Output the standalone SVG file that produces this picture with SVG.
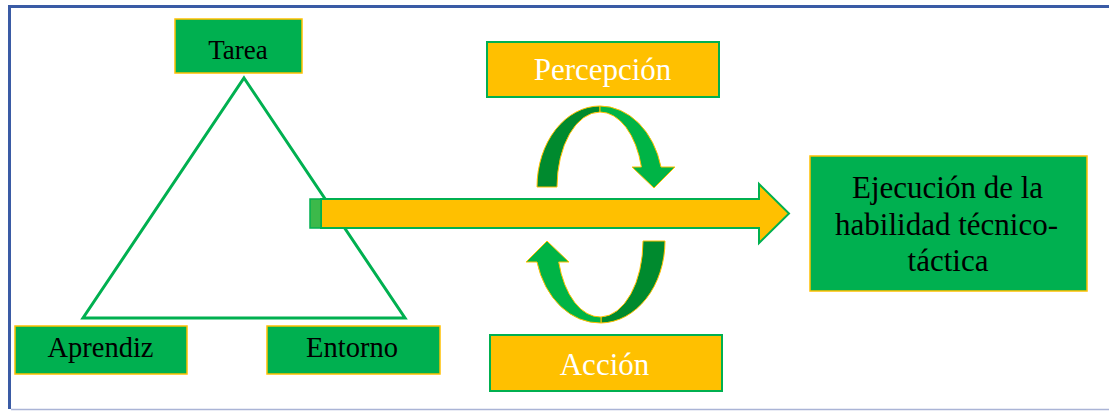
<svg xmlns="http://www.w3.org/2000/svg" width="1109" height="412" viewBox="0 0 1109 412">
<style>
.gbox{fill:#00b050;stroke:#ffc000;stroke-width:1.5}
.ybox{fill:#ffc000;stroke:#00b050;stroke-width:2}
.dark{fill:#000;text-anchor:middle}
.light{fill:#fff;text-anchor:middle}
.dk{fill:#008a2e;stroke:#ffc000;stroke-width:1}
.br{fill:#00b446;stroke:#ffc000;stroke-width:1}
</style>
<rect width="1109" height="412" fill="#fff"/>
<g id="frame">
<path d="M1109 6.5 H9.5 V409" fill="none" stroke="#3a5ba5" stroke-width="3"/>
<path d="M11 409.5 H1109" fill="none" stroke="#aab4d6" stroke-width="1.5"/>
</g>
<g id="triangle">
<path d="M244 78 L405 318 L83 318 Z" fill="none" stroke="#00b050" stroke-width="3" stroke-linejoin="miter"/>
</g>
<g id="connectors">
<path d="M321 199 H759 V184 L789 213.5 L759 243 V228 H321 Z" fill="#ffc000" stroke="#00b050" stroke-width="2"/>
<rect x="310" y="199" width="11" height="29" fill="#3cb94a" stroke="#00b050" stroke-width="1.5"/>
<g id="cycle-top">
<path class="dk" d="M537 187 A63 81 0 0 1 600 106 L600 112 A43 75 0 0 0 557 187 Z"/>
<path class="br" d="M600 106 A63 81 0 0 1 661 167 L675 167 L654 188 L632 167 L641.4 167 A43 75 0 0 0 600 112 Z"/>
</g>
<g id="cycle-bottom">
<path class="dk" d="M665 241 A65 82 0 0 1 601 323 L601 317 A43 76 0 0 0 643 241 Z"/>
<path class="br" d="M601 323 A65 82 0 0 1 537 262 L526 262 L547 241 L569 262 L558.7 262 A43 76 0 0 0 601 317 Z"/>
</g>
</g>
<g font-family="Liberation Serif, Times New Roman, serif">
<g id="tarea">
<rect class="gbox" x="175" y="19" width="127" height="54"/>
<text class="dark" x="238" y="59" font-size="27">Tarea</text>
</g>
<g id="aprendiz">
<rect class="gbox" x="15" y="326" width="172" height="48"/>
<text class="dark" x="100.5" y="357" font-size="28.5">Aprendiz</text>
</g>
<g id="entorno">
<rect class="gbox" x="267" y="326" width="173" height="48"/>
<text class="dark" x="352" y="357" font-size="28.5">Entorno</text>
</g>
<g id="percepcion">
<rect class="ybox" x="487" y="42" width="232" height="55"/>
<text class="light" x="602.5" y="80" font-size="31">Percepción</text>
</g>
<g id="accion">
<rect class="ybox" x="490" y="335" width="232" height="56"/>
<text class="light" x="604.5" y="375" font-size="31">Acción</text>
</g>
<g id="ejecucion">
<rect class="gbox" x="810" y="156" width="277" height="135"/>
<text class="dark" font-size="31"><tspan x="947.5" y="198">Ejecución de la</tspan><tspan x="946.5" y="235">habilidad técnico-</tspan><tspan x="948" y="271">táctica</tspan></text>
</g>
</g>
</svg>
